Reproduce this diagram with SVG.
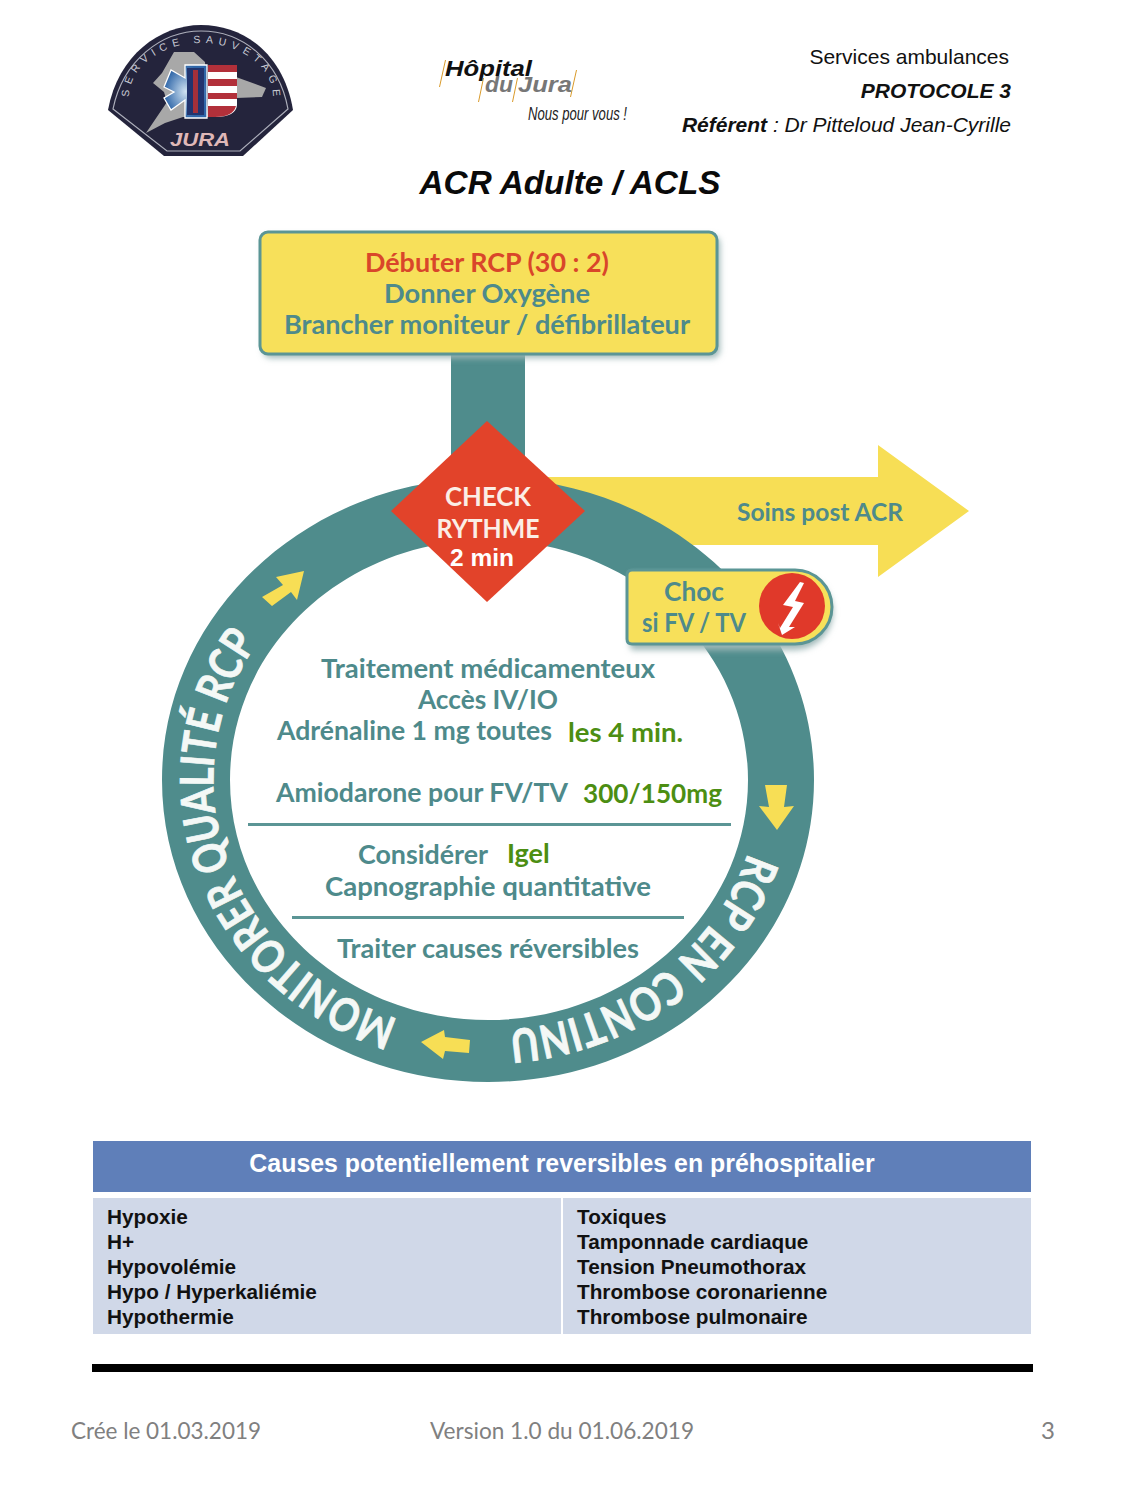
<svg xmlns="http://www.w3.org/2000/svg" width="1125" height="1500" viewBox="0 0 1125 1500">
<style>
.t{font-family:"Lato","Open Sans",sans-serif;font-weight:700;fill:#4e8a8b;text-anchor:middle;font-size:26px}
.g{font-family:"Lato","Open Sans",sans-serif;font-weight:700;fill:#4c8e12;font-size:27px}
.a{font-family:"Liberation Sans",Arial,sans-serif}
.h{font-size:21px;fill:#111;text-anchor:end}
.ring{font-family:"Lato","Open Sans",sans-serif;font-weight:700;fill:#f4f8f6;stroke:#f4f8f6;stroke-width:.8;font-size:46px}
.cell{font-family:"Liberation Sans",Arial,sans-serif;font-weight:700;font-size:20.75px;fill:#111}
.foot{font-family:"Lato","Open Sans",sans-serif;font-size:24px;fill:#808080}
.y{fill:#f7de55}
.sl{fill:#d99a2a}
.lg{font-size:22.5px;font-weight:700;font-style:italic}
</style>
<defs>
<filter id="sh" x="-10%" y="-10%" width="125%" height="130%"><feGaussianBlur stdDeviation="3"/></filter>
<radialGradient id="bl"><stop offset="0" stop-color="#cfe2f2"/><stop offset="1" stop-color="#2f66a8"/></radialGradient>
<path id="p1" d="M398,1019 A275,253 0 0 1 294,601"/>
<path id="p2" d="M748,853 A272,251 0 0 1 504,1030"/>
<path id="p3" d="M129,97 A72,54 0 0 1 273,97"/>
</defs>

<g id="badge">
<path d="M108,110 C118,55 160,25 201,25 C245,25 284,55 293,110 L243,156 L164,156 Z" fill="#24243c"/>
<path d="M113,109 C123,60 162,31 201,31 C242,31 279,60 288,109 L240,151 L167,151 Z" fill="none" stroke="#aeb0bc" stroke-width="1.2"/>
<path d="M146,133 L167,102 L164,92 L153,83 L162,73 L174,52 L194,52 L205,62 L208,117 L183,117 L165,123 Z" fill="#a8a8a8"/>
<path d="M236,77 L266,88 L262,97 L236,98 Z" fill="#a8a8a8"/>
<path d="M208,65 H237 V105 Q236,117 215,117 H208 Z" fill="#fff"/>
<path d="M208,65 H237 V72 H208 Z M208,79 H237 V86 H208 Z M208,93 H237 V99 H208 Z M208,106 H236 Q233,117 215,117 H208 Z" fill="#b2303a"/>
<path d="M164,87 L171,70 L185,78 V65 H207 V118 H185 V100 L171,110 L164,98 L174,92 Z" fill="url(#bl)" stroke="#fff" stroke-width="1.3"/>
<rect x="187" y="68" width="17" height="47" fill="#22346e"/>
<rect x="193" y="70" width="5" height="43" fill="#a5303a"/>
<text class="a" font-size="10.5" fill="#c8cad4"><textPath href="#p3" textLength="198">SERVICE  SAUVETAGE</textPath></text>
<text class="a" x="200" y="146" font-size="19" font-weight="700" font-style="italic" fill="#dfb7b7" text-anchor="middle" textLength="60" lengthAdjust="spacingAndGlyphs">JURA</text>
</g>

<g id="hopital">
<path class="sl" d="M445,60 L446,60 L440,87 L439,87 Z M483,78 L484,78 L479,102 L478,102 Z M517,78 L518,78 L513,102 L512,102 Z M576,70 L577,70 L571,97 L570,97 Z"/>
<text class="a lg" x="445" y="76" fill="#111" textLength="87" lengthAdjust="spacingAndGlyphs">Hôpital</text>
<text class="a lg" x="485" y="92" fill="#777" textLength="28" lengthAdjust="spacingAndGlyphs">du</text>
<text class="a lg" x="518" y="92" fill="#777" textLength="54" lengthAdjust="spacingAndGlyphs">Jura</text>
<text class="a" x="528" y="120" font-size="18" font-style="italic" fill="#222" textLength="99" lengthAdjust="spacingAndGlyphs">Nous pour vous !</text>
</g>

<g id="header">
<text class="a h" x="1009" y="64">Services ambulances</text>
<text class="a h" x="1011" y="98" font-weight="700" font-style="italic">PROTOCOLE 3</text>
<text class="a h" x="1011" y="132" font-style="italic"><tspan font-weight="700">Référent</tspan> : Dr Pitteloud Jean-Cyrille</text>
<text class="a" x="570" y="194" font-size="33.3" font-weight="700" font-style="italic" fill="#0a0a0a" text-anchor="middle">ACR Adulte / ACLS</text>
</g>

<g id="connectors">
<rect x="451" y="350" width="74" height="110" fill="#4f8c8c"/>
<path class="y" d="M540,477 H878 V445 L969,511 L878,577 V545 H540 Z"/>
<path d="M488,478 C668,478 814,613 814,780 C814,947 668,1082 488,1082 C308,1082 162,947 162,780 C162,613 308,478 488,478 Z M488,540 C345,540 230,647 230,780 C230,913 345,1020 488,1020 C631,1020 748,913 748,780 C748,647 631,540 488,540 Z" fill="#4f8c8c" fill-rule="evenodd"/>
<path class="y" d="M304,571 L276,577 L283,585 L262,597 L272,606 L291,592 L297,600 Z"/>
<path class="y" d="M777,830 L794,806 L784,807 L787,785 L765,785 L769,807 L759,806 Z"/>
<path class="y" d="M421,1042 L444,1030 L445,1037 L470,1040 L469,1053 L445,1051 L443,1059 Z"/>
</g>

<text class="ring"><textPath href="#p1" textLength="470" lengthAdjust="spacingAndGlyphs">MONITORER QUALITÉ RCP</textPath></text>
<text class="ring"><textPath href="#p2" textLength="315" lengthAdjust="spacingAndGlyphs">RCP EN CONTINU</textPath></text>

<g id="start">
<rect x="263" y="236" width="457" height="122" rx="8" fill="#9fb8b8" filter="url(#sh)"/>
<rect x="260" y="232" width="457" height="122" rx="8" fill="#f7e05a" stroke="#5b9595" stroke-width="3"/>
<text class="t" x="487" y="272" style="fill:#d9462a" textLength="244" lengthAdjust="spacingAndGlyphs">Débuter RCP (30 : 2)</text>
<text class="t" x="487" y="303" textLength="206" lengthAdjust="spacingAndGlyphs">Donner Oxygène</text>
<text class="t" x="487" y="334" textLength="406" lengthAdjust="spacingAndGlyphs">Brancher moniteur / défibrillateur</text>
</g>

<g id="check">
<path d="M487,421 L585,511 L487,602 L391,511 Z" fill="#e2432a"/>
<text class="t" x="488" y="506" style="fill:#fbeee6" textLength="86" lengthAdjust="spacingAndGlyphs">CHECK</text>
<text class="t" x="488" y="538" style="fill:#fbeee6" textLength="103" lengthAdjust="spacingAndGlyphs">RYTHME</text>
<text class="a" x="482" y="566" font-size="24.5" font-weight="700" fill="#fff" text-anchor="middle">2 min</text>
</g>

<g id="soins"><text class="t" x="820" y="521" style="font-size:24px" textLength="166" lengthAdjust="spacingAndGlyphs">Soins post ACR</text></g>

<g id="choc">
<path d="M634,574 H795 A38,38 0 0 1 795,650 H634 Q630,650 630,646 V578 Q630,574 634,574 Z" fill="#9fb8b8" filter="url(#sh)"/>
<path d="M632,570 H795 A37,37 0 0 1 795,644 H632 Q627,644 627,639 V575 Q627,570 632,570 Z" fill="#f7e05a" stroke="#5b9595" stroke-width="3"/>
<circle cx="792" cy="606" r="33" fill="#e0392a"/>
<path d="M800,582 L783,605 L793,607 L780,628 L778,623 L782,635 L795,627 L789,627 L804,603 L795,601 L804,583 Z" fill="#fff"/>
<text class="t" x="694" y="601" textLength="60" lengthAdjust="spacingAndGlyphs">Choc</text>
<text class="t" x="694" y="632" textLength="104" lengthAdjust="spacingAndGlyphs">si FV / TV</text>
</g>

<g id="treatment">
<text class="t" x="488" y="678" textLength="334" lengthAdjust="spacingAndGlyphs">Traitement médicamenteux</text>
<text class="t" x="488" y="709" textLength="140" lengthAdjust="spacingAndGlyphs">Accès IV/IO</text>
<text class="t" x="414.500" y="740" textLength="275" lengthAdjust="spacingAndGlyphs">Adrénaline 1 mg toutes</text>
<text class="g" x="568" y="742" textLength="115" lengthAdjust="spacingAndGlyphs">les 4 min.</text>
<text class="t" x="422" y="802" textLength="292" lengthAdjust="spacingAndGlyphs">Amiodarone pour FV/TV</text>
<text class="g" x="583" y="803" textLength="139" lengthAdjust="spacingAndGlyphs">300/150mg</text>
<rect x="248" y="823" width="483" height="3" fill="#5b9595"/>
<text class="t" x="423" y="864" textLength="130" lengthAdjust="spacingAndGlyphs">Considérer</text>
<text class="g" x="507" y="863">Igel</text>
<text class="t" x="488" y="896" textLength="326" lengthAdjust="spacingAndGlyphs">Capnographie quantitative</text>
<rect x="292" y="916" width="392" height="3" fill="#5b9595"/>
<text class="t" x="488" y="958" textLength="302" lengthAdjust="spacingAndGlyphs">Traiter causes réversibles</text>
</g>

<g id="table">
<rect x="93" y="1141" width="938" height="51" fill="#5f7fb9"/>
<text class="a" x="562" y="1172" font-size="24.9" font-weight="700" fill="#fff" text-anchor="middle">Causes potentiellement reversibles en préhospitalier</text>
<rect x="93" y="1198" width="468" height="136" fill="#d0d8e8"/>
<rect x="563" y="1198" width="468" height="136" fill="#d0d8e8"/>
<text class="cell"><tspan x="107" y="1224">Hypoxie</tspan><tspan x="107" y="1249">H+</tspan><tspan x="107" y="1274">Hypovolémie</tspan><tspan x="107" y="1299">Hypo / Hyperkaliémie</tspan><tspan x="107" y="1324">Hypothermie</tspan></text>
<text class="cell"><tspan x="577" y="1224">Toxiques</tspan><tspan x="577" y="1249">Tamponnade cardiaque</tspan><tspan x="577" y="1274">Tension Pneumothorax</tspan><tspan x="577" y="1299">Thrombose coronarienne</tspan><tspan x="577" y="1324">Thrombose pulmonaire</tspan></text>
<rect x="92" y="1364" width="941" height="8" fill="#000"/>
</g>

<g id="footer">
<text class="foot" x="71" y="1439" textLength="190" lengthAdjust="spacingAndGlyphs">Crée le 01.03.2019</text>
<text class="foot" x="430" y="1439" textLength="264" lengthAdjust="spacingAndGlyphs">Version 1.0 du 01.06.2019</text>
<text class="foot" x="1041" y="1439">3</text>
</g>
</svg>
